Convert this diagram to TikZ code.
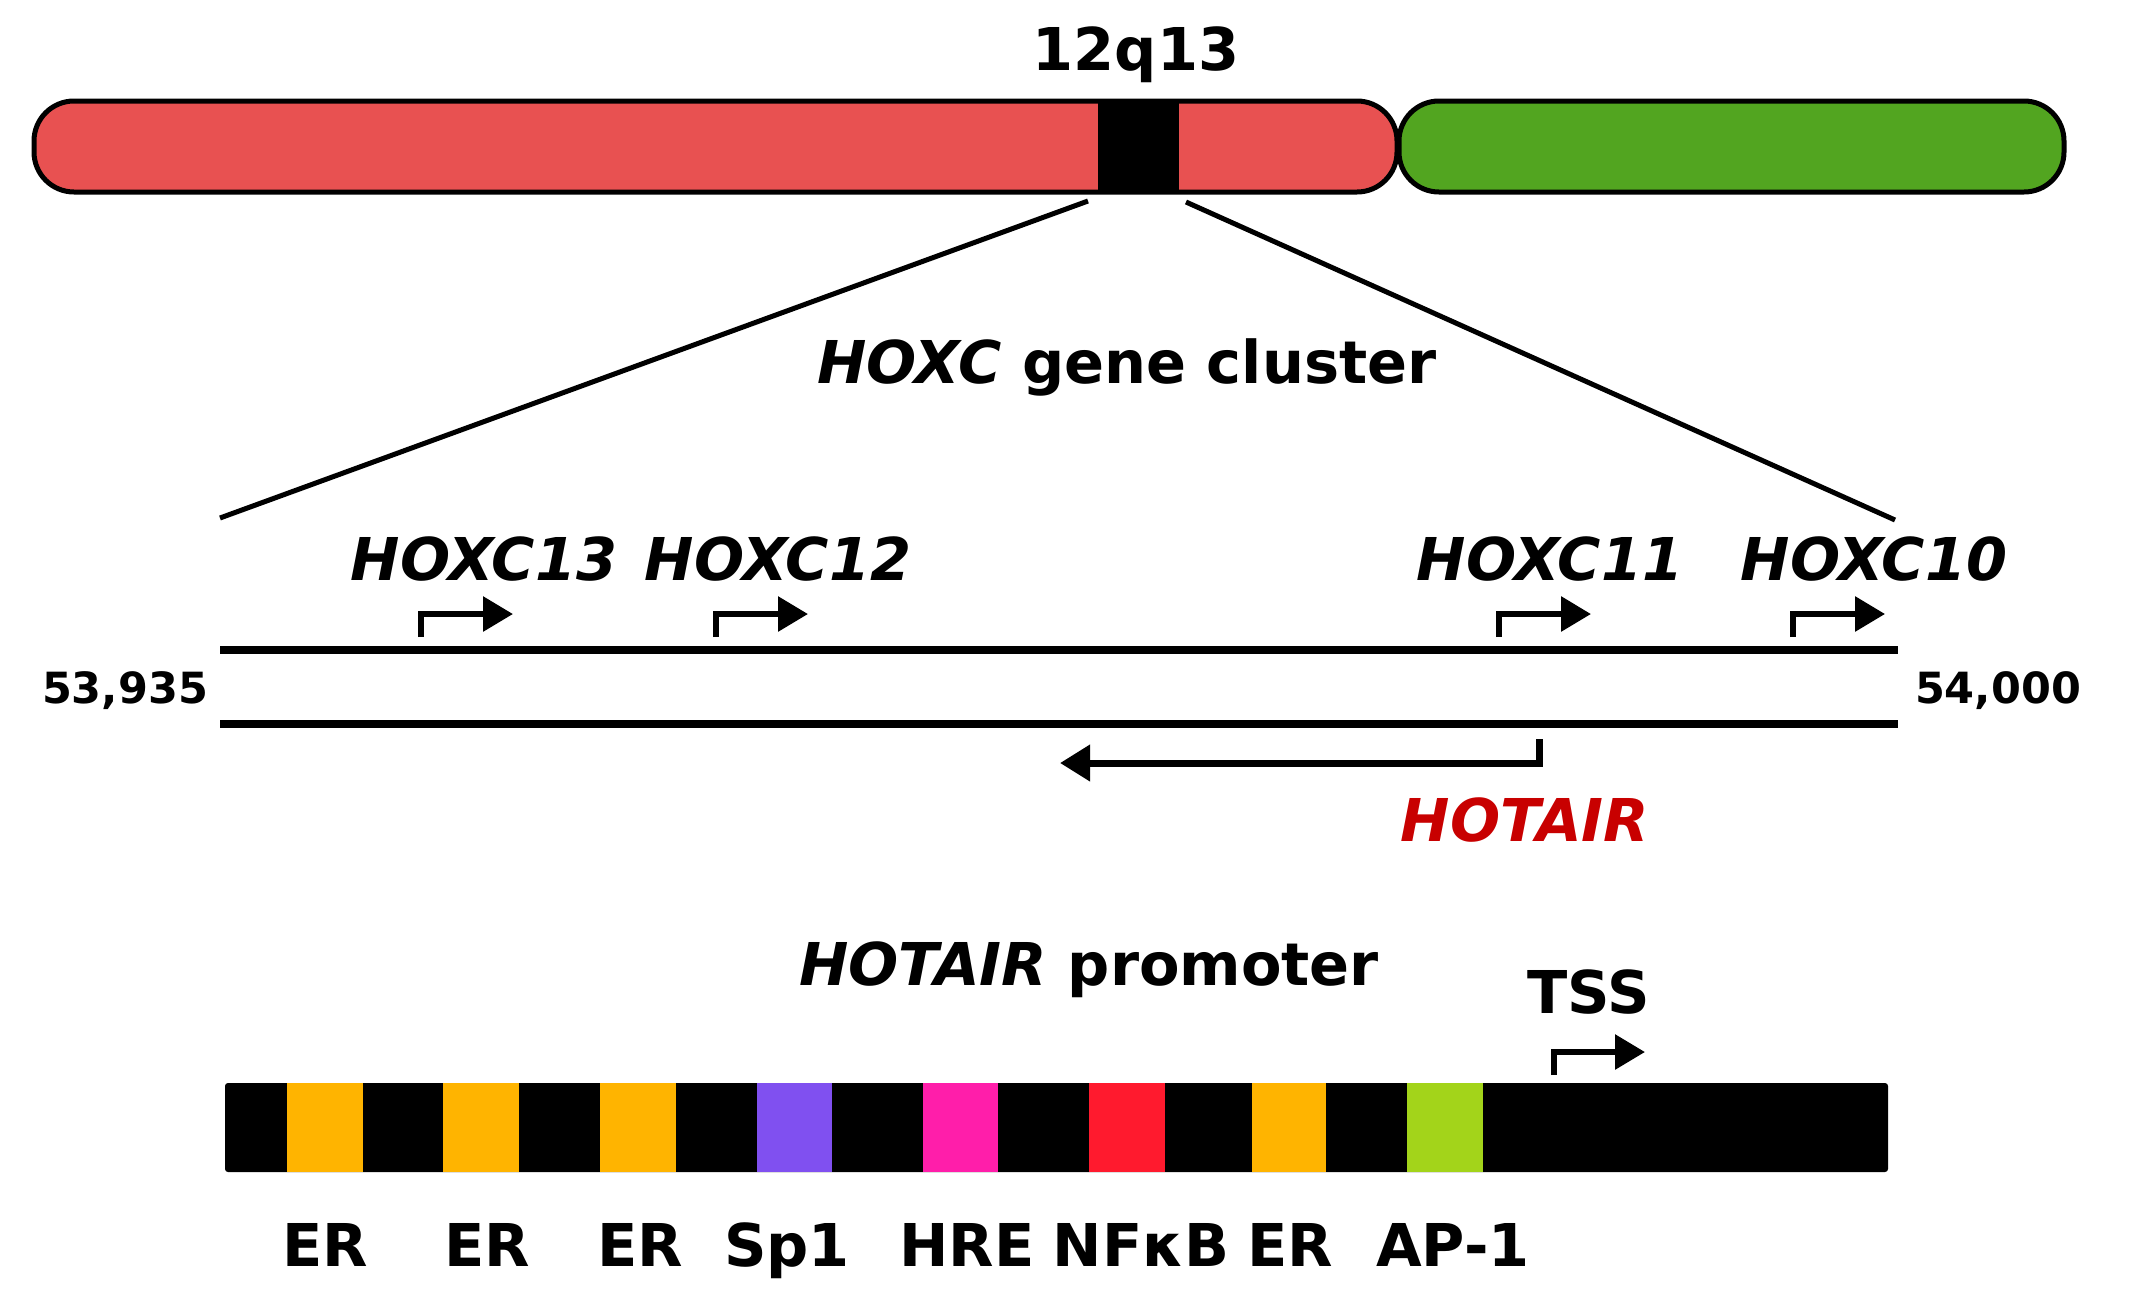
\documentclass[tikz,border=0pt]{standalone}
\usepackage{fontspec}
\setmainfont{DejaVu Sans}
\usetikzlibrary{arrows.meta}
\definecolor{chromred}{HTML}{E85151}
\definecolor{chromgreen}{HTML}{52A520}
\definecolor{hotairred}{HTML}{C80000}
\definecolor{erorange}{HTML}{FFB400}
\definecolor{sppurple}{HTML}{8050F0}
\definecolor{hremagenta}{HTML}{FF1EAA}
\definecolor{nfkbred}{HTML}{FF1A2E}
\definecolor{apgreen}{HTML}{A3D41A}
\begin{document}
\begin{tikzpicture}[x=1pt,y=-1pt,
  lbl/.style={font=\fontsize{59}{70}\selectfont\bfseries,inner sep=0pt,anchor=base},
  poslbl/.style={font=\fontsize{43}{52}\selectfont\bfseries,inner sep=0pt,anchor=base},
  strand/.style={line width=8pt},
  zoomline/.style={line width=5pt},
  tssarrow/.style={line width=6pt,-{Triangle[length=30pt,width=34pt]}}]
 \useasboundingbox (0,0) rectangle (2143,1310);
 \draw[fill=chromred,line width=5pt,rounded corners=40pt] (34,101) rectangle (1397,192);
 \draw[fill=chromgreen,line width=5pt,rounded corners=40pt] (1399,101) rectangle (2064,192);
 \fill (1098,101) rectangle (1179,192);
 \node[lbl] (band) at (1136,70) {12q13};
 \coordinate (bandL) at (1088,201);
 \coordinate (bandR) at (1186,202);
 \coordinate (strandL) at (220,518);
 \coordinate (strandR) at (1895,520);
 \draw[zoomline] (bandL) -- (strandL);
 \draw[zoomline] (bandR) -- (strandR);
 \node[lbl] (cluster) at (1127,383) {\textit{HOXC} gene cluster};
 \foreach \gx/\gname in {484/13,778/12,1550/11,1874/10}
  {\node[lbl] (hoxc\gname) at (\gx,580) {\textit{HOXC\gname}};}
 \foreach \sx in {421,716,1499,1793}
  {\draw[tssarrow] (\sx,637) |- ++(92,-23);}
 \coordinate (topL) at (220,650);
 \coordinate (topR) at (1898,650);
 \coordinate (botL) at (220,724);
 \coordinate (botR) at (1898,724);
 \draw[strand] (topL) -- (topR);
 \draw[strand] (botL) -- (botR);
 \node[poslbl] (start) at (125,703) {53,935};
 \node[poslbl] (end) at (1998,703) {54,000};
 \draw[line width=7pt,-{Triangle[length=30pt,width=35pt]}] (1539,739) |- (1060,763);
 \node[lbl,text=hotairred] (hotair) at (1525,841) {\textit{HOTAIR}};
 \node[lbl] (promoter) at (1089,985) {\textit{HOTAIR} promoter};
 \node[lbl] (tss) at (1589,1013) {TSS};
 \draw[tssarrow] (1554,1075) |- (1645,1052);
 \fill[rounded corners=3pt] (225,1083) rectangle (1888,1172);
 \foreach \ax/\bx/\col in {286.5/363/erorange,443/519/erorange,600/675.5/erorange,
   757/832/sppurple,923/998/hremagenta,1089/1165/nfkbred,1252/1326/erorange,1407/1483/apgreen}
  {\fill[\col] (\ax,1083) rectangle (\bx,1172);}
 \foreach \lx/\ltext in {325/ER,487/ER,640/ER,787/Sp1,967/HRE,1141/NFκB,1290/ER,1453/AP-1}
  {\node[lbl] at (\lx,1266) {\ltext};}
\end{tikzpicture}
\end{document}
